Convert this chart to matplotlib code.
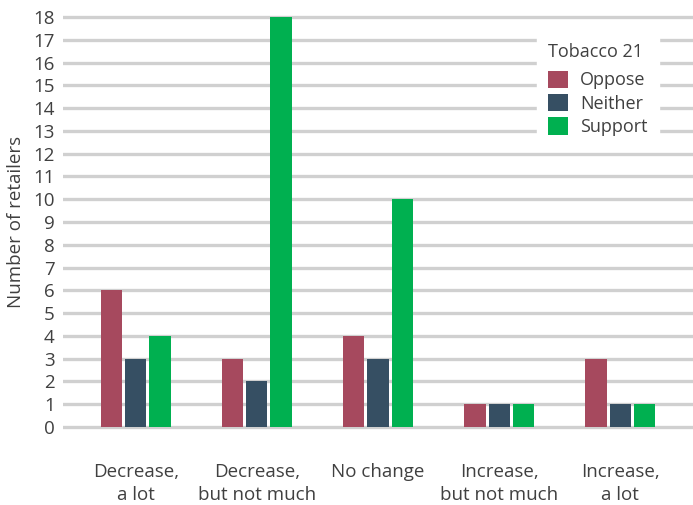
import matplotlib.pyplot as plt
import numpy as np

# chart data
categories = ["Decrease,\na lot", "Decrease,\nbut not much", "No change",
              "Increase,\nbut not much", "Increase,\na lot"]
oppose = [6, 3, 4, 1, 3]
neither = [3, 2, 3, 1, 1]
support = [4, 18, 10, 1, 1]
series_names = ["Oppose", "Neither", "Support"]
colors = ["#A6495E", "#364F63", "#00B050"]
yticks = list(range(0, 19))

plt.rcParams['font.family'] = ['Open Sans', 'DejaVu Sans']
text_color = "#404040"

fig = plt.figure(figsize=(6.93, 5.05), dpi=100)
ax = fig.add_axes([63 / 693, 0.1477, 1 - 63 / 693, 0.8253])

x = np.arange(len(categories))
width = 0.175
for i, (vals, name, col) in enumerate(zip([oppose, neither, support], series_names, colors)):
    ax.bar(x + (i - 1) * 0.2, vals, width, color=col, label=name, zorder=3)

ax.set_xlim(-0.6, 4.6)
ax.set_ylim(-0.15, 18.15)
ax.set_yticks(yticks)
ax.set_xticks(x)
ax.set_xticklabels(categories, fontsize=13.5, color=text_color, linespacing=1.38)
ax.tick_params(axis="y", labelsize=13.5, labelcolor=text_color, length=0, pad=6)
ax.tick_params(axis="x", length=0, pad=23.5)
ax.grid(axis="y", color="#d0d0d0", linewidth=2.4, zorder=0)
for s in ax.spines.values():
    s.set_visible(False)
ax.set_ylabel("Number of retailers", fontsize=13.5, color=text_color, labelpad=6)

leg = ax.legend(title="Tobacco 21", loc="upper left",
                bbox_to_anchor=(528 / 693, 1 - 23 / 505), bbox_transform=fig.transFigure,
                fontsize=13, title_fontsize=13, frameon=True, fancybox=False,
                handlelength=1.1, handleheight=1.1, handletextpad=0.7,
                labelspacing=0.25, borderpad=0.6, alignment="left")
leg.get_frame().set_edgecolor("white")
leg.get_frame().set_facecolor("white")
leg.get_frame().set_alpha(1)
leg.get_title().set_color(text_color)
leg._legend_box.sep = 7
for t in leg.get_texts():
    t.set_color(text_color)

plt.savefig("out.png", dpi=100)
